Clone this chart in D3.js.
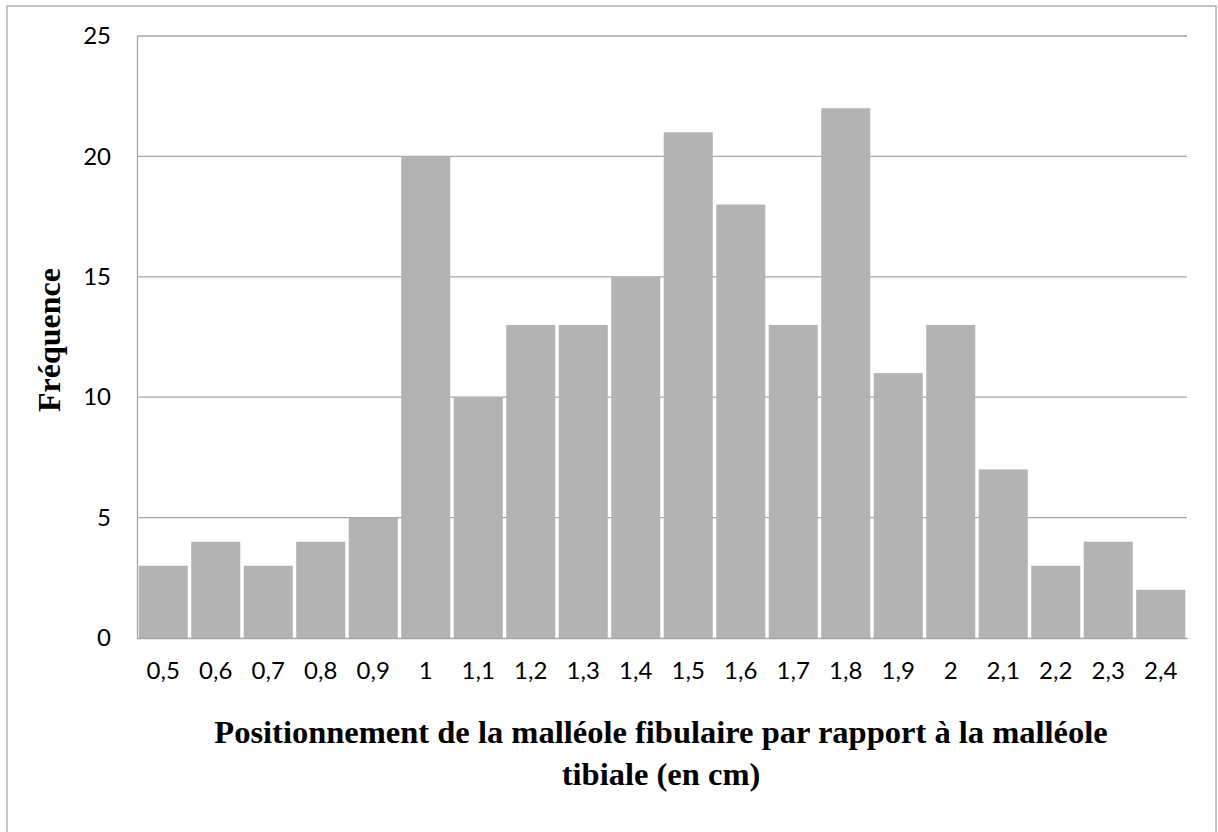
<!DOCTYPE html>
<html>
<head>
<meta charset="utf-8">
<script src="https://cdn.jsdelivr.net/npm/d3@7"></script>
<style>
  html, body { margin: 0; padding: 0; background: #fff; }
  svg { display: block; }
</style>
</head>
<body>
<svg id="chart" width="1218" height="832"></svg>
<script>
const categories = ["0,5","0,6","0,7","0,8","0,9","1","1,1","1,2","1,3","1,4","1,5","1,6","1,7","1,8","1,9","2","2,1","2,2","2,3","2,4"];
const frequencies = [3,4,3,4,5,20,10,13,13,15,21,18,13,22,11,13,7,3,4,2];
const yTicks = [0,5,10,15,20,25];
const yTitle = "Fréquence";
const xTitleLines = ["Positionnement de la malléole fibulaire par rapport à la malléole", "tibiale (en cm)"];

const svg = d3.select("#chart");
const W = 1218, H = 832;
const plot = { left: 137, right: 1187, top: 36, bottom: 638 };

// outer chart border
svg.append("rect")
  .attr("x", 7).attr("y", 6)
  .attr("width", 1216 - 7).attr("height", H + 20)
  .attr("fill", "#fff").attr("stroke", "#a6a6a6").attr("stroke-width", 1.3);

const x = d3.scaleBand().domain(categories).range([plot.left, plot.right]).paddingInner(0.066).paddingOuter(0.033);
const y = d3.scaleLinear().domain([0, 25]).range([plot.bottom, plot.top]);

// gridlines
svg.append("g").selectAll("line").data(yTicks.filter(d => d > 0)).join("line")
  .attr("x1", plot.left).attr("x2", plot.right)
  .attr("y1", d => y(d)).attr("y2", d => y(d))
  .attr("stroke", "#a6a6a6").attr("stroke-width", 1.3);

// bars
svg.append("g").selectAll("rect").data(frequencies).join("rect")
  .attr("x", (d, i) => x(categories[i]))
  .attr("width", x.bandwidth())
  .attr("y", d => y(d))
  .attr("height", d => y(0) - y(d))
  .attr("fill", "#b3b3b3");

const tickFont = "Lato, 'Open Sans', sans-serif";
// axes
const yAxis = d3.axisLeft(y).tickValues(yTicks).tickSize(0).tickPadding(26);
const gy = svg.append("g").attr("transform", `translate(${plot.left},0)`).call(yAxis);
gy.select(".domain").attr("stroke", "#a6a6a6").attr("stroke-width", 1.3);
gy.selectAll("text").attr("font-family", tickFont).attr("font-size", 24).attr("fill", "#000");

const xAxis = d3.axisBottom(x).tickSize(0).tickPadding(24);
const gx = svg.append("g").attr("transform", `translate(0,${plot.bottom})`).call(xAxis);
gx.select(".domain").attr("stroke", "#a6a6a6").attr("stroke-width", 1.3);
gx.selectAll("text").attr("font-family", tickFont).attr("font-size", 24).attr("fill", "#000");

// axis titles
svg.append("text")
  .attr("transform", `translate(60,340) rotate(-90)`)
  .attr("text-anchor", "middle")
  .attr("font-family", "'Liberation Serif', 'Times New Roman', serif")
  .attr("font-weight", "bold").attr("font-size", 32).attr("fill", "#000")
  .text(yTitle);

svg.append("g").selectAll("text").data(xTitleLines).join("text")
  .attr("x", 661).attr("y", (d, i) => 743 + i * 42)
  .attr("text-anchor", "middle")
  .attr("font-family", "'Liberation Serif', 'Times New Roman', serif")
  .attr("font-weight", "bold").attr("font-size", 32.5).attr("fill", "#000")
  .text(d => d);
</script>
</body>
</html>
